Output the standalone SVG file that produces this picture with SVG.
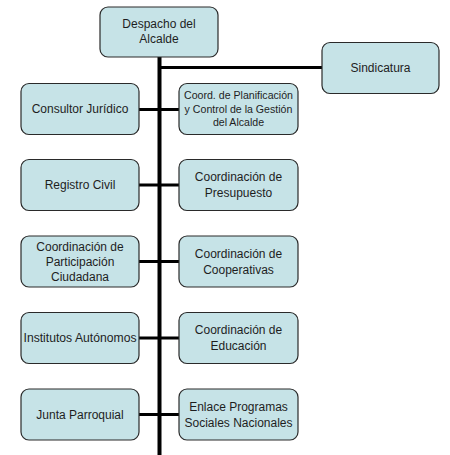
<svg xmlns="http://www.w3.org/2000/svg" width="450" height="455" viewBox="0 0 450 455">
<style>
.box{fill:#c6e3e7;stroke:#2a2a2a;stroke-width:1.2}
.t{font-family:"Liberation Sans",Arial,sans-serif;font-size:12px;fill:#1e1e1e;text-anchor:middle}
.s{font-size:10.6px}
.ln{stroke:#000;fill:none}
</style>
<rect width="450" height="455" fill="#fff"/>
<g id="connectors">
<line class="ln" x1="159.5" y1="57" x2="159.5" y2="455" stroke-width="4"/>
<line class="ln" x1="159" y1="67.5" x2="322" y2="67.5" stroke-width="3"/>
<line class="ln" x1="139" y1="109.5" x2="179" y2="109.5" stroke-width="3"/>
<line class="ln" x1="139" y1="185" x2="179" y2="185" stroke-width="3"/>
<line class="ln" x1="139" y1="261.5" x2="179" y2="261.5" stroke-width="3"/>
<line class="ln" x1="139" y1="338" x2="179" y2="338" stroke-width="3"/>
<line class="ln" x1="139" y1="414.5" x2="179" y2="414.5" stroke-width="3"/>
</g>
<g id="despacho">
<rect class="box" x="100" y="7" width="118" height="50" rx="8"/>
<text class="t" x="159" y="28">Despacho del</text>
<text class="t" x="159" y="43">Alcalde</text>
</g>
<g id="sindicatura">
<rect class="box" x="322" y="42.5" width="117" height="51" rx="8"/>
<text class="t" x="380.5" y="72">Sindicatura</text>
</g>
<g id="consultor">
<rect class="box" x="21" y="83.5" width="118" height="51" rx="8"/>
<text class="t" x="80" y="113">Consultor Jurídico</text>
</g>
<g id="planificacion">
<rect class="box" x="179" y="83.5" width="119" height="51" rx="8"/>
<text class="t s" x="238.5" y="99">Coord. de Planificación</text>
<text class="t s" x="238.5" y="112.5">y Control de la Gestión</text>
<text class="t s" x="238.5" y="126">del Alcalde</text>
</g>
<g id="registro">
<rect class="box" x="21" y="159.5" width="118" height="51" rx="8"/>
<text class="t" x="80" y="189">Registro Civil</text>
</g>
<g id="presupuesto">
<rect class="box" x="179" y="159.5" width="119" height="51" rx="8"/>
<text class="t" x="238.5" y="181">Coordinación de</text>
<text class="t" x="238.5" y="197">Presupuesto</text>
</g>
<g id="participacion">
<rect class="box" x="21" y="236" width="118" height="51" rx="8"/>
<text class="t" x="80" y="251">Coordinación de</text>
<text class="t" x="80" y="266">Participación</text>
<text class="t" x="80" y="281">Ciudadana</text>
</g>
<g id="cooperativas">
<rect class="box" x="179" y="236" width="119" height="51" rx="8"/>
<text class="t" x="238.5" y="257.5">Coordinación de</text>
<text class="t" x="238.5" y="273.5">Cooperativas</text>
</g>
<g id="institutos">
<rect class="box" x="21" y="312.5" width="118" height="51" rx="8"/>
<text class="t" x="80" y="342" textLength="113" lengthAdjust="spacingAndGlyphs">Institutos Autónomos</text>
</g>
<g id="educacion">
<rect class="box" x="179" y="312.5" width="119" height="51" rx="8"/>
<text class="t" x="238.5" y="334">Coordinación de</text>
<text class="t" x="238.5" y="350">Educación</text>
</g>
<g id="junta">
<rect class="box" x="21" y="389" width="118" height="51" rx="8"/>
<text class="t" x="80" y="418.5">Junta Parroquial</text>
</g>
<g id="enlace">
<rect class="box" x="179" y="389" width="119" height="51" rx="8"/>
<text class="t" x="238.5" y="410.5">Enlace Programas</text>
<text class="t" x="238.5" y="426.5">Sociales Nacionales</text>
</g>
</svg>
